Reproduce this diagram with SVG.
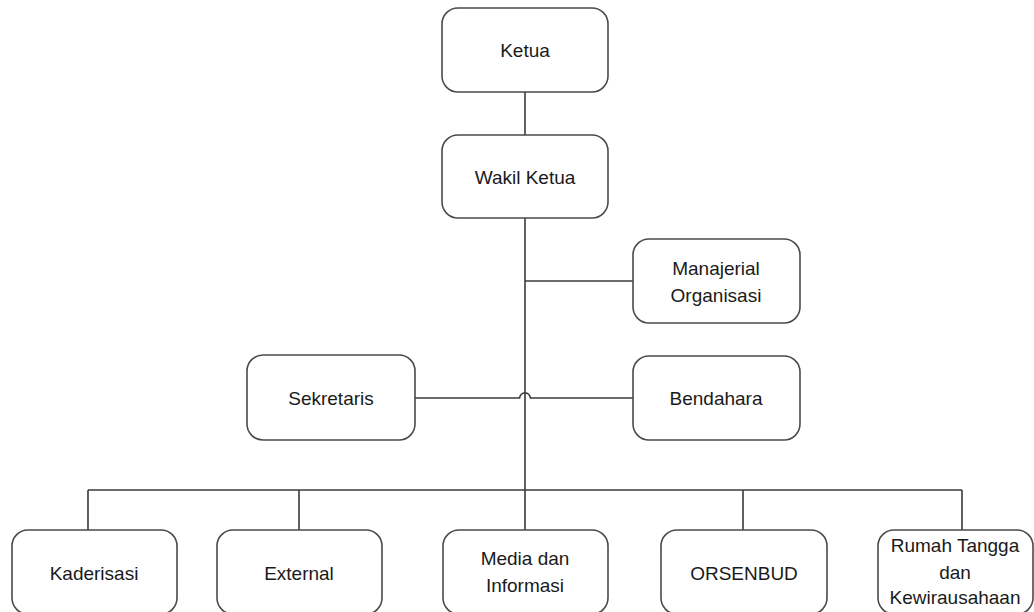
<svg xmlns="http://www.w3.org/2000/svg" width="1034" height="612" viewBox="0 0 1034 612">
<style>
.box{fill:#ffffff;stroke:#4a4a4a;stroke-width:1.6}
.lbl{font-family:"Liberation Sans",Arial,sans-serif;font-size:19px;fill:#1a1a1a;text-anchor:middle}
.con{fill:none;stroke:#3a3a3a;stroke-width:1.6}
</style>
<rect width="1034" height="612" fill="#ffffff"/>
<g id="connectors">
<path class="con" d="M525 92V135"/>
<path class="con" d="M525 218V490"/>
<path class="con" d="M525 281H633"/>
<path class="con" d="M415 398H519.5Q520.5 393 525 393Q529.5 393 530.5 398H633"/>
<path class="con" d="M88 490H962"/>
<path class="con" d="M88 490V530M299 490V530M525 490V530M743 490V530M962 490V530"/>
</g>
<g id="ketua"><rect class="box" x="442" y="8" width="166" height="84" rx="16"/><text class="lbl" x="525" y="57">Ketua</text></g>
<g id="wakil-ketua"><rect class="box" x="442" y="135" width="166" height="83" rx="16"/><text class="lbl" x="525" y="184">Wakil Ketua</text></g>
<g id="manajerial"><rect class="box" x="633" y="239" width="167" height="84" rx="16"/><text class="lbl" x="716" y="275">Manajerial</text><text class="lbl" x="716" y="302">Organisasi</text></g>
<g id="sekretaris"><rect class="box" x="247" y="355" width="168" height="85" rx="16"/><text class="lbl" x="331" y="405">Sekretaris</text></g>
<g id="bendahara"><rect class="box" x="633" y="356" width="167" height="84" rx="16"/><text class="lbl" x="716" y="405">Bendahara</text></g>
<g id="kaderisasi"><rect class="box" x="12" y="530" width="165" height="84" rx="16"/><text class="lbl" x="94" y="580">Kaderisasi</text></g>
<g id="external"><rect class="box" x="217" y="530" width="165" height="84" rx="16"/><text class="lbl" x="299" y="580">External</text></g>
<g id="media"><rect class="box" x="443" y="530" width="165" height="84" rx="16"/><text class="lbl" x="525" y="565">Media dan</text><text class="lbl" x="525" y="592">Informasi</text></g>
<g id="orsenbud"><rect class="box" x="661" y="530" width="166" height="84" rx="16"/><text class="lbl" x="744" y="580">ORSENBUD</text></g>
<g id="rumah-tangga"><rect class="box" x="878" y="530" width="155" height="84" rx="16"/><text class="lbl" x="955" y="552">Rumah Tangga</text><text class="lbl" x="955" y="579">dan</text><text class="lbl" x="955" y="604">Kewirausahaan</text></g>
</svg>
